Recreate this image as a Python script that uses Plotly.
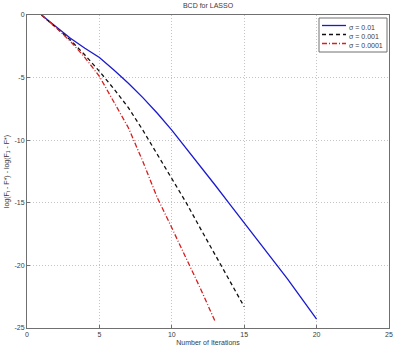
import plotly.graph_objects as go

iters_a = list(range(1, 21))
sigma_001 = [0, -0.95, -1.85, -2.65, -3.4, -4.4, -5.45, -6.6, -7.85, -9.2,
             -10.65, -12.1, -13.6, -15.1, -16.6, -18.1, -19.6, -21.1, -22.7, -24.3]
iters_b = list(range(1, 16))
sigma_0001 = [0, -1.0, -2.0, -3.2, -4.5, -5.9, -7.4, -9.2, -11.1, -13.0,
              -15.0, -17.1, -19.2, -21.2, -23.3]
iters_c = list(range(1, 14))
sigma_00001 = [0, -1.0, -2.1, -3.4, -4.9, -6.9, -9.0, -11.7, -14.6, -17.0,
               -19.4, -21.9, -24.5]

names = ["σ = 0.01", "σ = 0.001", "σ = 0.0001"]
xticks = [0, 5, 10, 15, 20, 25]
yticks = [0, -5, -10, -15, -20, -25]

FAM = "Liberation Sans, Arial, sans-serif"
TXT = "#3a3a3a"
W, H = 396, 348
ML, MR, MT, MB = 27, 7, 15, 20
PW, PH = W - ML - MR, H - MT - MB

def px(x):
    return (x - ML) / PW

def py(y):
    return 1 - (y - MT) / PH

styles = [
    dict(color="#1a1ad0", width=1.3, dash="solid"),
    dict(color="#101010", width=1.3, dash="4px,3px"),
    dict(color="#d81e1e", width=1.3, dash="5px,2px,1px,2px"),
]

fig = go.Figure()
for xs, ys, nm, st in zip([iters_a, iters_b, iters_c],
                          [sigma_001, sigma_0001, sigma_00001], names, styles):
    fig.add_trace(go.Scatter(x=xs, y=ys, mode="lines", name=nm, line=st,
                             showlegend=False))

# manual legend box (MATLAB-like compact legend)
fig.add_shape(type="rect", xref="paper", yref="paper",
              x0=px(319), x1=px(387), y0=py(52), y1=py(18),
              line=dict(color="#707070", width=1), fillcolor="white", layer="above")
for i, (nm, st) in enumerate(zip(names, styles)):
    yy = 25.5 + i * 9
    fig.add_shape(type="line", xref="paper", yref="paper",
                  x0=px(322), x1=px(346), y0=py(yy), y1=py(yy),
                  line=st, layer="above")
    fig.add_annotation(xref="paper", yref="paper", x=px(347), y=py(yy + 1.5),
                       text=nm, showarrow=False, xanchor="left", yanchor="middle",
                       font=dict(family=FAM, size=7, color=TXT))

font = dict(family=FAM, size=7, color=TXT)
axis_common = dict(
    showgrid=True, gridcolor="#c4c4c4", griddash="1px,2px", gridwidth=1,
    showline=True, linecolor="#707070", linewidth=1, mirror=True,
    ticks="inside", ticklen=3, tickcolor="#707070",
    zeroline=False, tickfont=font, automargin=False,
)
fig.update_layout(
    width=W, height=H,
    margin=dict(l=ML, r=MR, t=MT, b=MB),
    paper_bgcolor="white", plot_bgcolor="white",
    font=font,
    showlegend=False,
    title=dict(text="BCD for LASSO", x=0.5, xanchor="center", xref="paper",
               y=1, yref="container", yanchor="top", pad=dict(t=3),
               font=dict(family=FAM, size=7, color=TXT)),
    xaxis=dict(range=[0, 25], tickvals=xticks, ticktext=[str(v) for v in xticks],
               title=dict(text="Number of Iterations", standoff=2,
                          font=dict(family=FAM, size=7, color=TXT)),
               **axis_common),
    yaxis=dict(range=[-25, 0], tickvals=yticks, ticktext=[str(v) for v in yticks],
               title=dict(text="log(F<sub>t</sub> - F*) - log(F<sub>1</sub> - F*)", standoff=4,
                          font=dict(family=FAM, size=7, color=TXT)),
               **axis_common),
)

fig.write_html("out.html")
